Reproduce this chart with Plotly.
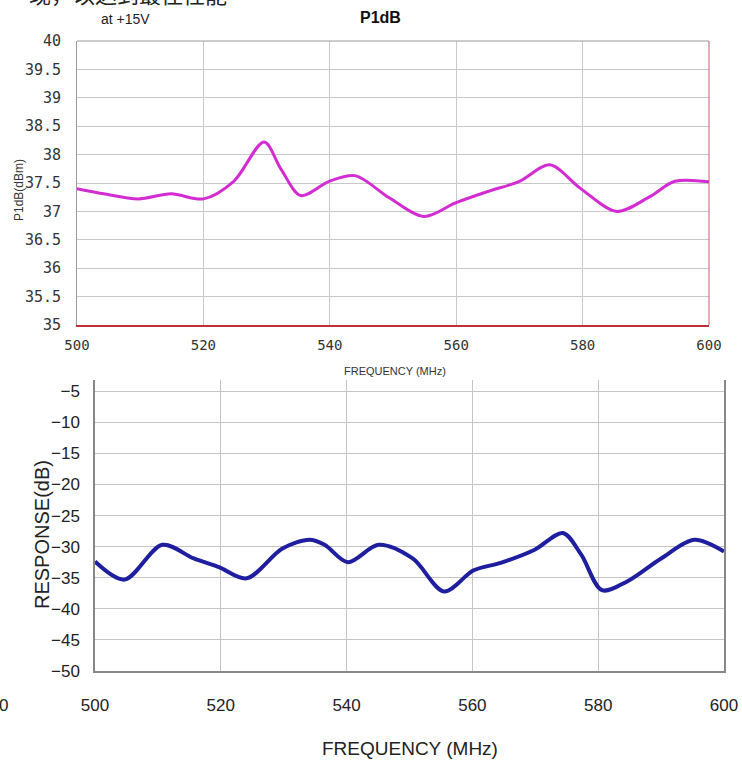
import plotly.graph_objects as go

# ---- data: top chart (P1dB vs frequency) ----
p1db_freq = [500, 504.2, 509.7, 514.9, 520, 524.8, 529.6, 532.3, 535.4, 539.9, 544,
             549.4, 554.9, 559.9, 565, 570, 574.8, 579.6, 585.4, 590.5, 594.6, 600]
p1db_vals = [37.4, 37.31, 37.22, 37.31, 37.22, 37.53, 38.22, 37.74, 37.28, 37.53, 37.63,
             37.24, 36.91, 37.15, 37.35, 37.53, 37.82, 37.41, 37.0, 37.25, 37.53, 37.52]

# ---- data: bottom chart (response vs frequency) ----
resp_freq = [500, 504.7, 510.7, 515.7, 519.7, 524.1, 529.8, 534.1, 536.5, 540.2, 545.1,
             550.5, 555.5, 560.2, 564.5, 569.9, 574.4, 577.3, 580.6, 584.6, 590, 595.3, 600]
resp_vals = [-32.4, -35.3, -29.7, -31.9, -33.3, -35.1, -30.3, -28.9, -29.7, -32.5, -29.7,
             -31.9, -37.2, -33.8, -32.6, -30.5, -27.8, -31.3, -37.0, -35.6, -31.9, -28.9, -30.8]

x_ticks = [500, 520, 540, 560, 580, 600]
top_y_ticks = [35, 35.5, 36, 36.5, 37, 37.5, 38, 38.5, 39, 39.5, 40]
top_y_text = ["35", "35.5", "36", "36.5", "37", "37.5", "38", "38.5", "39", "39.5", "40"]
bot_y_ticks = [-5, -10, -15, -20, -25, -30, -35, -40, -45, -50]

W, H = 742, 762
def px(x):
    return x / W
def py(y):
    return 1 - y / H

fig = go.Figure()
fig.add_trace(go.Scatter(x=p1db_freq, y=p1db_vals, mode="lines", xaxis="x", yaxis="y",
                         line=dict(color="#d22cd2", width=3, shape="spline", smoothing=0.9),
                         showlegend=False))
fig.add_trace(go.Scatter(x=resp_freq, y=resp_vals, mode="lines", xaxis="x2", yaxis="y2",
                         line=dict(color="#1e1e9e", width=4, shape="spline", smoothing=0.9),
                         showlegend=False))

mono = "DejaVu Sans Mono"
arial = "Liberation Sans, Arial"

fig.update_layout(
    width=W, height=H,
    margin=dict(l=0, r=0, t=0, b=0, autoexpand=False),
    paper_bgcolor="white", plot_bgcolor="white",
    xaxis=dict(domain=[px(77), px(709)], range=[500, 600], tickvals=x_ticks,
               showgrid=True, gridcolor="#c8c8c8", gridwidth=1,
               showline=True, linecolor="#c0303a", linewidth=1.5,
               ticks="", ticklabelstandoff=6,
               tickfont=dict(family=mono, size=14, color="#333333"),
               zeroline=False, anchor="y"),
    yaxis=dict(domain=[py(325), py(41)], range=[35, 40], tickvals=top_y_ticks, ticktext=top_y_text,
               showgrid=True, gridcolor="#c8c8c8", gridwidth=1,
               showline=True, linecolor="#9a9a9a", linewidth=1,
               ticks="", ticklabelstandoff=12,
               tickfont=dict(family=mono, size=15, color="#333333"),
               zeroline=False, anchor="x"),
    xaxis2=dict(domain=[px(95), px(724)], range=[500, 600], tickvals=x_ticks,
                showgrid=True, gridcolor="#c4c4c4", gridwidth=1,
                showline=True, linecolor="#888888", linewidth=1.5,
                ticks="", ticklabelstandoff=18,
                tickfont=dict(family=arial, size=17, color="#222222"),
                zeroline=False, anchor="y2"),
    yaxis2=dict(domain=[py(671), py(380)], range=[-50, -3.2], tickvals=bot_y_ticks,
                showgrid=True, gridcolor="#c4c4c4", gridwidth=1,
                showline=True, linecolor="#888888", linewidth=1.5, mirror=True,
                ticks="", ticklabelstandoff=10,
                tickfont=dict(family=arial, size=17, color="#222222"),
                zeroline=False, anchor="x2"),
)

# borders of top chart (top gray, right reddish)
fig.add_shape(type="line", xref="paper", yref="paper", x0=px(77), x1=px(709), y0=py(41), y1=py(41),
              line=dict(color="#9a9a9a", width=1))
fig.add_shape(type="line", xref="paper", yref="paper", x0=px(709), x1=px(709), y0=py(41), y1=py(325),
              line=dict(color="#c06070", width=1))

ann = [
    dict(text="P1dB", x=px(380), y=py(17), font=dict(family=arial, size=16, color="#111111"), bold=True),
    dict(text="at +15V", x=px(126), y=py(19), font=dict(family=arial, size=14, color="#222222")),
    dict(text="FREQUENCY (MHz)", x=px(395), y=py(371), font=dict(family=arial, size=11, color="#333333")),
    dict(text="P1dB(dBm)", x=px(19), y=py(190), font=dict(family=arial, size=12, color="#333333"), angle=-90),
    dict(text="RESPONSE(dB)", x=px(42), y=py(535), font=dict(family=arial, size=20, color="#222222"), angle=-90),
    dict(text="FREQUENCY (MHz)", x=px(410), y=py(748), font=dict(family=arial, size=19, color="#222222")),
    dict(text="现，以达到最佳性能", x=px(128), y=py(-7), font=dict(family="Noto Sans CJK SC", size=22, color="#222222")),
    dict(text="0", x=px(3), y=py(705), font=dict(family=arial, size=17, color="#222222")),
]
for a in ann:
    txt = "<b>" + a["text"] + "</b>" if a.get("bold") else a["text"]
    fig.add_annotation(text=txt, x=a["x"], y=a["y"], xref="paper", yref="paper",
                       showarrow=False, xanchor="center", yanchor="middle",
                       textangle=a.get("angle", 0), font=a["font"])

fig.write_html("out.html", config={"displayModeBar": False},
               post_script="document.body.style.margin='0';document.body.style.overflow='hidden';")
